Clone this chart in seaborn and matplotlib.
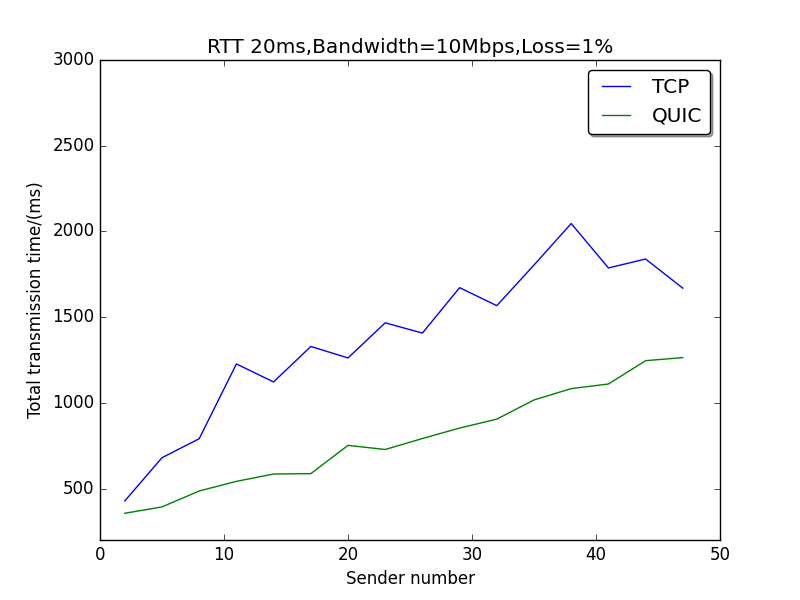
import matplotlib
matplotlib.use("Agg")
import matplotlib.pyplot as plt
import seaborn as sns

plt.style.use("classic")

sender_number = [2, 5, 8, 11, 14, 17, 20, 23, 26, 29, 32, 35, 38, 41, 44, 47]
tcp_ms = [428, 680, 791, 1227, 1122, 1329, 1262, 1467, 1407, 1672, 1567, 1804, 2046, 1787, 1839, 1669]
quic_ms = [356, 393, 486, 542, 585, 587, 752, 728, 792, 853, 905, 1017, 1083, 1110, 1246, 1264]

fig, ax = plt.subplots(figsize=(8, 6), dpi=100)
fig.patch.set_facecolor("white")

sns.lineplot(x=sender_number, y=tcp_ms, color="b", label="TCP", ax=ax)
sns.lineplot(x=sender_number, y=quic_ms, color="g", label="QUIC", ax=ax)

ax.set_xlim(0, 50)
ax.set_ylim(200, 3000)
ax.set_xticks([0, 10, 20, 30, 40, 50])
ax.set_yticks([500, 1000, 1500, 2000, 2500, 3000])
ax.set_xlabel("Sender number")
ax.set_ylabel("Total transmission time/(ms)")
ax.set_title("RTT 20ms,Bandwidth=10Mbps,Loss=1%")
ax.legend(loc="upper right", shadow=True, fancybox=True)

fig.savefig("out.png", dpi=100, facecolor="white")
